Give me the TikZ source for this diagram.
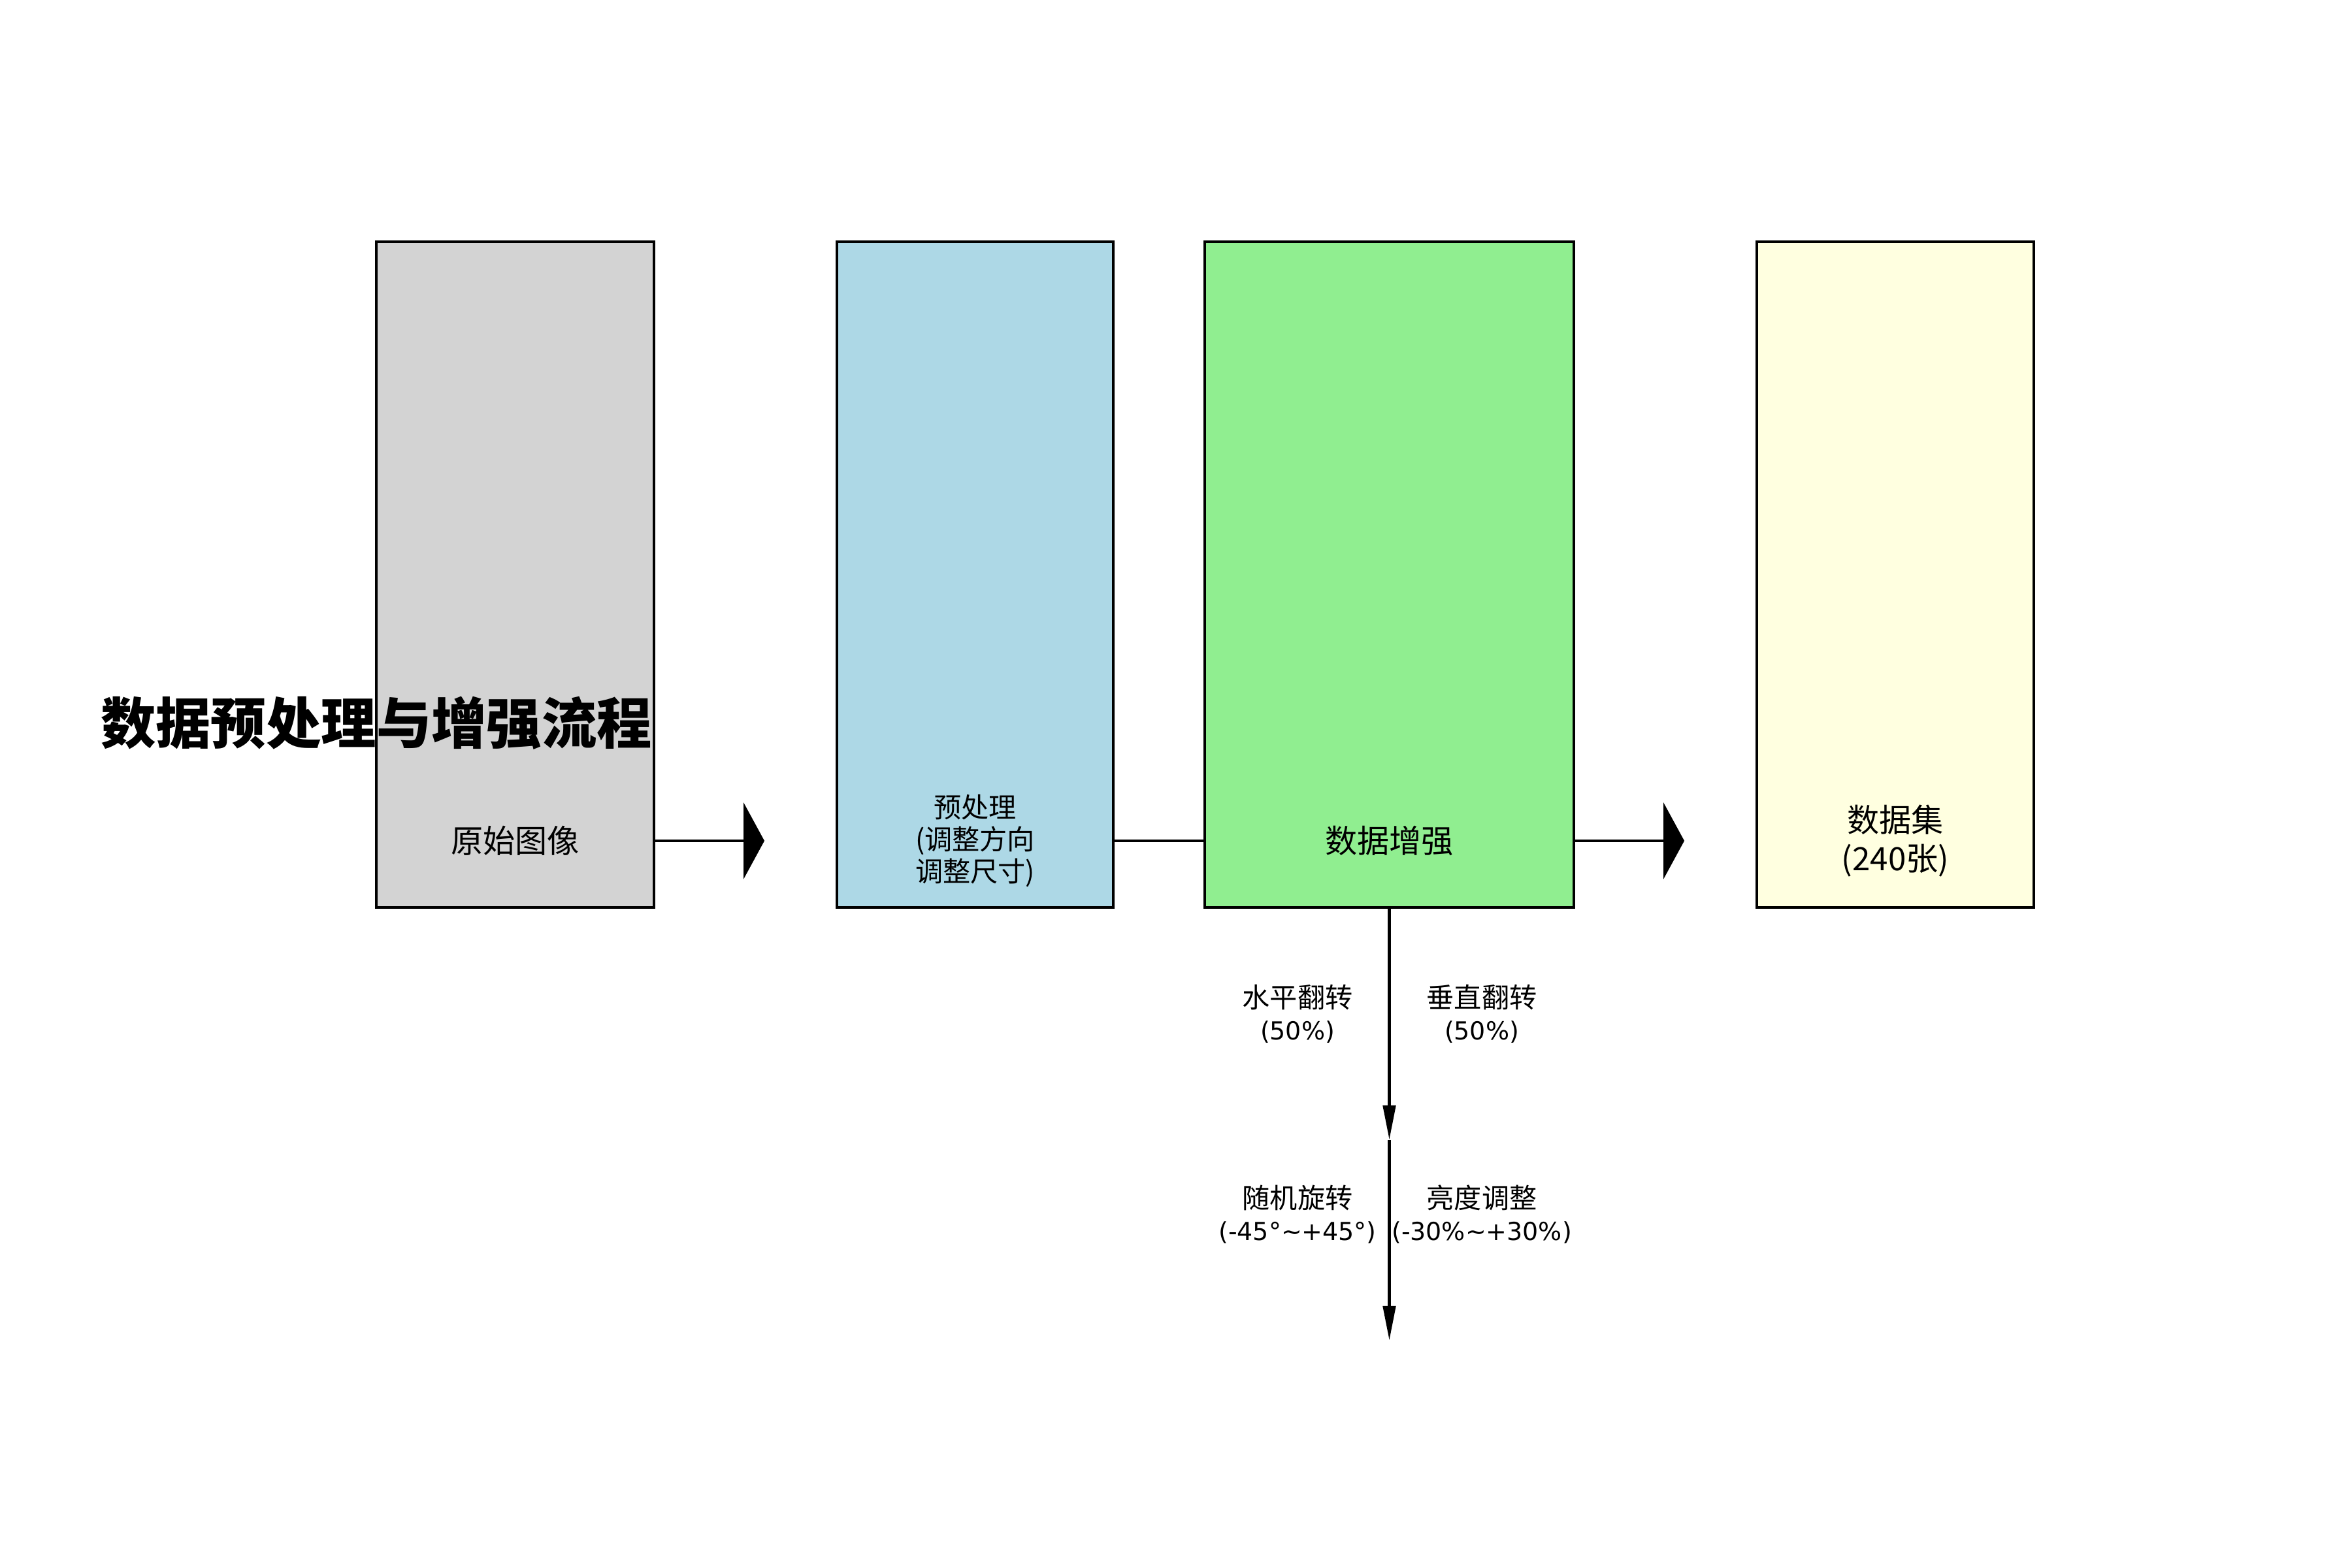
\documentclass[tikz,border=0pt]{standalone}
\usepackage{fontspec}
\setmainfont{Noto Sans CJK SC}
\newfontfamily\latinfont{DejaVu Sans}
\usepackage{xcolor}
\usetikzlibrary{arrows.meta, positioning, calc}
\definecolor{rawgray}{HTML}{D3D3D3}
\definecolor{prepblue}{HTML}{ADD8E6}
\definecolor{auggreen}{HTML}{90EE90}
\definecolor{setyellow}{HTML}{FFFFE0}
\newcommand{\optval}[1]{{\latinfont\fontsize{10.8}{14}\selectfont #1}}
\tikzset{
  stagebox/.style={rectangle, draw=black, line width=1.2pt, fill=#1,
                   minimum height=10.19cm, inner sep=0pt},
  stagebox/.default=white,
  boxtext/.style={align=center, font=\fontsize{14}{17}\selectfont},
  smalltext/.style={align=center, font=\fontsize{12}{14}\selectfont},
  flowarrow/.style={line width=1.4pt, -{Triangle[length=0.32cm, width=1.17cm]}},
  downarrow/.style={line width=1.4pt, -{Triangle[length=0.53cm, width=0.19cm]}},
  flowline/.style={line width=1.4pt},
}

\begin{document}
\begin{tikzpicture}
      \useasboundingbox (0,0) rectangle (36,24);
      % stages
      \node[stagebox=rawgray, minimum width=4.25cm] (raw) at (7.885, 15.205) {};
      \node[stagebox=prepblue, minimum width=4.23cm] (prep) at (14.925, 15.205) {};
      \node[stagebox=auggreen, minimum width=5.65cm] (aug) at (21.265, 15.205) {};
      \node[stagebox=setyellow, minimum width=4.24cm] (dset) at (29.01, 15.205) {};
      % labels on the arrow row
      \node[boxtext] (rawlbl) at (7.885, 11.13) {原始图像};
      \node[smalltext] (preplbl) at (14.925, 11.13) {预处理\\(调整方向\\调整尺寸)};
      \node[boxtext] (auglbl) at (21.265, 11.13) {数据增强};
      \node[boxtext] (dsetlbl) at (29.01, 11.13) {数据集\\(240张)};
      % title
      \node[font=\fontsize{24}{28}\selectfont\bfseries] (title) at (5.76, 12.93) {数据预处理与增强流程};
      % connectors
      \coordinate (tip1) at (11.70, 11.13);
      \coordinate (tip3) at (25.78, 11.13);
      \draw[flowarrow] (raw.east |- tip1) -- (tip1);
      \draw[flowline] (prep.east |- tip1) -- (aug.west |- tip1);
      \draw[flowarrow] (aug.east |- tip3) -- (tip3);
      \coordinate (augmid) at (21.265, 6.55);
      \coordinate (augend) at (21.265, 3.48);
      \draw[downarrow] (aug.south) -- (augmid);
      \draw[downarrow] (augmid) -- (augend);
      % augmentation options
      \node[smalltext] (hflip) at (19.86, 8.48) {水平翻转\\\optval{(50\%)}};
      \node[smalltext] (vflip) at (22.68, 8.48) {垂直翻转\\\optval{(50\%)}};
      \node[smalltext] (rot) at (19.86, 5.41) {随机旋转\\\optval{(-45°\textasciitilde+45°)}};
      \node[smalltext] (bright) at (22.68, 5.41) {亮度调整\\\optval{(-30\%\textasciitilde+30\%)}};
\end{tikzpicture}
\end{document}
